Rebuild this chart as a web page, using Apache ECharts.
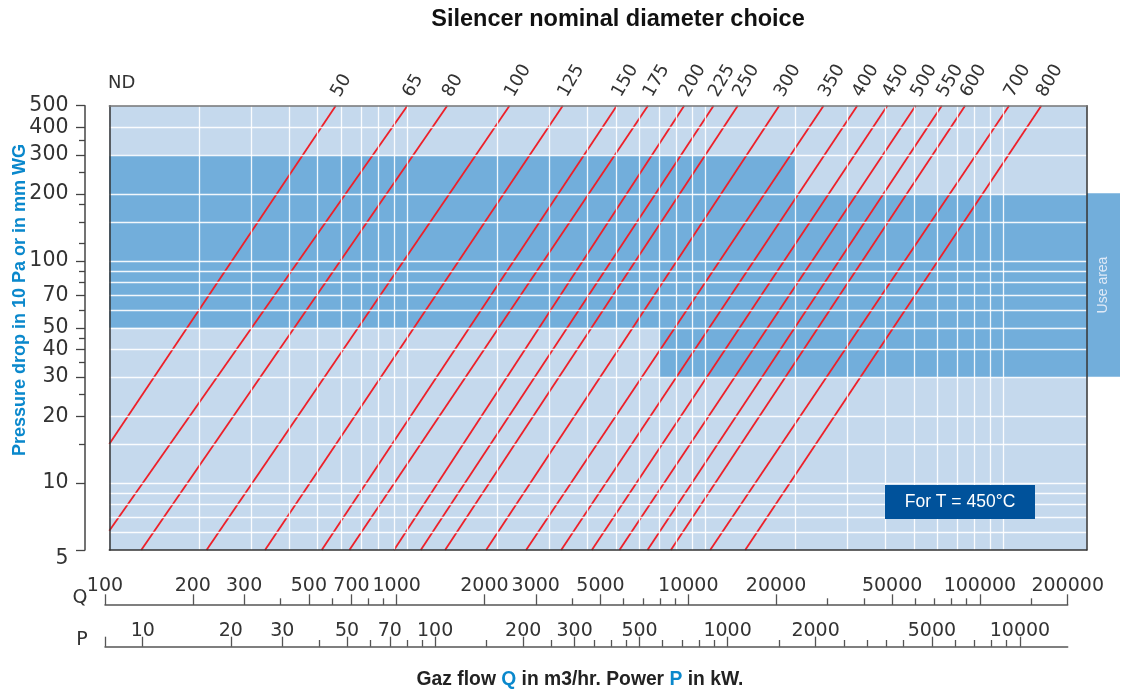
<!DOCTYPE html>
<html><head><meta charset="utf-8">
<script src="https://cdn.jsdelivr.net/npm/echarts@6/dist/echarts.min.js"></script>
<style>html,body{margin:0;padding:0;background:#fff}#c{width:1128px;height:690px}</style>
</head><body><div id="c"></div>
<script>
// ---- data ----
const ndNames  = ['50','65','80','100','125','150','175','200','225','250','300','350','400','450','500','550','600','700','800'];
// gas flow Q (m3/h) where each ND line meets the 500 top of the chart
const ndTopQ   = [575,1000,1360,2200,3320,5040,6410,8480,10640,12830,17670,24890,32290,40720,50670,62030,74270,104300,133800];
const ndTopDp  = [500,500,500,500,500,500,500,500,500,500,500,500,500,500,500,500,500,500,500];
// where each ND line leaves the chart (left edge or bottom)
const ndEndQ   = [100,100,128,212,333,516,639,902,1109,1338,1837,2502,3280,4157,5145,6390,7654,10370,13590];
const ndEndDp  = [15,6.1,5,5,5,5,5,5,5,5,5,5,5,5,5,5,5,5,5];

// use area bands
const useAreaQFrom = [100, 100, 7000];
const useAreaQTo   = [20000, 190000, 190000];
const useAreaDpLow = [200, 50, 30];
const useAreaDpHigh= [300, 200, 50];
const useTabDp = [30, 200];

// plot scale ranges
const qRange  = [100, 190000];
const dpRange = [5, 500];

// grid lines
const gridQ  = [200,300,400,500,600,700,800,900,1000,2000,3000,4000,5000,6000,7000,8000,9000,10000,20000,30000,40000,50000,60000,70000,80000,90000,100000];
const gridDp = [6,7,8,9,10,15,20,30,40,50,60,70,80,90,100,150,200,300,400];

// axis ticks and labels
const yLabels = [5,10,20,30,40,50,70,100,200,300,400,500];
const yMinor  = [15,25,35,45,60,80,90,120,150,180,250,350];
const qAxisRange = [100, 200000];
const qLabels = [100,200,300,500,700,1000,2000,3000,5000,10000,20000,50000,100000,200000];
const qMinor  = [400,600,800,900,4000,6000,7000,8000,9000,30000,40000,60000,70000,80000,90000,150000];
const pAxisRange = [7.43, 14560];
const pLabels = [10,20,30,50,70,100,200,300,500,1000,2000,5000,10000];
const pMajorTicks = [7.43,10,20,30,50,70,100,200,300,500,1000,2000,5000,10000];
const pMinor  = [40,60,80,90,150,250,350,400,450,600,700,800,900,1500,2500,3000,3500,4000,6000,7000,8000,9000];

// ---- chart ----
const FONT = 'DejaVu Sans';
const AR = 'Liberation Sans';
const chart = echarts.init(document.getElementById('c'));

function ndLabel(v) {
  let best = 0, bd = Infinity;
  ndTopQ.forEach((q, i) => { const d = Math.abs(Math.log(q) - Math.log(v)); if (d < bd) { bd = d; best = i; } });
  return ndNames[best];
}
const plain = v => String(Math.round(v));

const hidden = { show: false };
const plotL = 109.3, plotT = 105.7, plotR = 1086.7, plotB = 550;

const option = {
  animation: false,
  backgroundColor: '#ffffff',
  title: [
    { text: 'Silencer nominal diameter choice', left: 618, top: 8, textAlign: 'center', padding: 0,
      textStyle: { fontFamily: AR, fontWeight: 'bold', fontSize: 23.5, color: '#111' } },
    { text: '{a|Gaz flow }{b|Q}{a| in m3/hr. Power }{b|P}{a| in kW.}', left: 580, top: 670, textAlign: 'center', padding: 0,
      textStyle: { rich: {
        a: { fontFamily: AR, fontWeight: 'bold', fontSize: 19.3, color: '#222' },
        b: { fontFamily: AR, fontWeight: 'bold', fontSize: 19.3, color: '#0a88cc' } } } }
  ],
  grid: [
    { left: plotL, top: plotT, width: plotR - plotL, height: plotB - plotT, show: true, backgroundColor: '#c5d9ed', borderWidth: 0 },
    { left: plotR, top: 193.3, width: 33.3, height: 183.4 },
    { left: 105, top: 560, width: 962.7, height: 45 },
    { left: 105, top: 610, width: 962.7, height: 36.7 }
  ],
  xAxis: [
    { gridIndex: 0, type: 'log', min: qRange[0], max: qRange[1], position: 'bottom', z: 10,
      axisLine: { show: true, lineStyle: { color: '#333', width: 1.5 } },
      axisTick: hidden, axisLabel: hidden, splitLine: hidden },
    { gridIndex: 0, type: 'log', min: qRange[0], max: qRange[1], position: 'top', z: 10,
      axisLine: { show: true, lineStyle: { color: '#777', width: 1.5 } },
      axisTick: hidden, splitLine: hidden,
      axisLabel: { show: true, customValues: ndTopQ, rotate: -60, margin: 10, hideOverlap: false,
        fontFamily: FONT, fontSize: 18, color: '#333', formatter: v => ndLabel(v) } },
    { gridIndex: 1, type: 'value', min: 0, max: 1, show: false },
    { gridIndex: 2, type: 'log', min: qAxisRange[0], max: qAxisRange[1], position: 'bottom',
      axisLine: { show: true, lineStyle: { color: '#555', width: 1.5 } },
      axisTick: { show: true, inside: true, length: 10.7, customValues: qLabels, lineStyle: { color: '#555', width: 1.3 } },
      axisLabel: { show: true, inside: true, margin: 9, customValues: qLabels, hideOverlap: false,
        fontFamily: FONT, fontSize: 19, color: '#333', formatter: plain },
      splitLine: hidden },
    { gridIndex: 2, type: 'log', min: qAxisRange[0], max: qAxisRange[1], position: 'bottom',
      axisLine: hidden,
      axisTick: { show: true, inside: true, length: 6.7, customValues: qMinor, lineStyle: { color: '#555', width: 1.3 } },
      axisLabel: hidden, splitLine: hidden },
    { gridIndex: 3, type: 'log', min: pAxisRange[0], max: pAxisRange[1], position: 'bottom',
      axisLine: { show: true, lineStyle: { color: '#555', width: 1.5 } },
      axisTick: { show: true, inside: true, length: 10, customValues: pMajorTicks, lineStyle: { color: '#555', width: 1.3 } },
      axisLabel: { show: true, inside: true, margin: 6, customValues: pLabels, hideOverlap: false,
        fontFamily: FONT, fontSize: 19, color: '#333', formatter: plain },
      splitLine: hidden },
    { gridIndex: 3, type: 'log', min: pAxisRange[0], max: pAxisRange[1], position: 'bottom',
      axisLine: hidden,
      axisTick: { show: true, inside: true, length: 6.7, customValues: pMinor, lineStyle: { color: '#555', width: 1.3 } },
      axisLabel: hidden, splitLine: hidden }
  ],
  yAxis: [
    { gridIndex: 0, type: 'log', min: dpRange[0], max: dpRange[1], position: 'left', offset: 24.3,
      axisLine: { show: true, lineStyle: { color: '#444', width: 1.5 } },
      axisTick: { show: true, length: 9, customValues: yLabels, lineStyle: { color: '#444', width: 1.3 } },
      axisLabel: { show: true, margin: 16.5, customValues: yLabels, hideOverlap: false,
        fontFamily: FONT, fontSize: 20.5, color: '#333',
        formatter: v => (Math.abs(v - 5) < 0.01 ? '{lo|5}' : plain(v)),
        rich: { lo: { fontFamily: FONT, fontSize: 20.5, color: '#333', padding: [18, 0, 0, 0] } } },
      splitLine: hidden },
    { gridIndex: 0, type: 'log', min: dpRange[0], max: dpRange[1], position: 'left', offset: 24.3,
      axisLine: hidden,
      axisTick: { show: true, length: 6, customValues: yMinor, lineStyle: { color: '#444', width: 1.3 } },
      axisLabel: hidden, splitLine: hidden },
    { gridIndex: 0, type: 'log', min: dpRange[0], max: dpRange[1], position: 'left', offset: 0, z: 10,
      axisLine: { show: true, lineStyle: { color: '#333', width: 1.5 } },
      axisTick: hidden, axisLabel: hidden, splitLine: hidden },
    { gridIndex: 0, type: 'log', min: dpRange[0], max: dpRange[1], position: 'right', offset: 0, z: 10,
      axisLine: { show: true, lineStyle: { color: '#333', width: 1.5 } },
      axisTick: hidden, axisLabel: hidden, splitLine: hidden },
    { gridIndex: 1, type: 'log', min: useTabDp[0], max: useTabDp[1], show: false },
    { gridIndex: 2, type: 'value', show: false },
    { gridIndex: 3, type: 'value', show: false }
  ],
  series: [
    { type: 'line', xAxisIndex: 0, yAxisIndex: 0, data: [], z: 1, silent: true,
      markArea: { silent: true, itemStyle: { color: '#72aedb' },
        data: useAreaQFrom.map((q0, i) => [
          { xAxis: q0, yAxis: useAreaDpHigh[i] },
          { xAxis: useAreaQTo[i], yAxis: useAreaDpLow[i] }
        ]) } },
    { type: 'line', xAxisIndex: 0, yAxisIndex: 0, data: [], z: 2, silent: true,
      markLine: { silent: true, symbol: ['none', 'none'], label: { show: false },
        lineStyle: { color: '#ffffff', width: 1.3, type: 'solid', opacity: 0.9 },
        emphasis: { disabled: true },
        data: gridQ.map(v => ({ xAxis: v })).concat(gridDp.map(v => ({ yAxis: v }))) } },
    ...ndNames.map((nd, i) => ({
      name: 'ND ' + nd, type: 'line', xAxisIndex: 0, yAxisIndex: 0, z: 3, silent: true,
      symbol: 'none', showSymbol: false, clip: false,
      lineStyle: { color: '#ee2029', width: 1.8 },
      data: [[ndTopQ[i], ndTopDp[i]], [ndEndQ[i], ndEndDp[i]]]
    })),
    { type: 'line', xAxisIndex: 2, yAxisIndex: 4, data: [], silent: true,
      markArea: { silent: true, itemStyle: { color: '#72aedb' },
        label: { show: true, position: 'inside', rotate: 90, color: '#dfe9f6', fontFamily: AR, fontSize: 14 },
        data: [[{ name: 'Use area', xAxis: 0, yAxis: useTabDp[1] }, { xAxis: 1, yAxis: useTabDp[0] }]] } }
  ],
  graphic: [
    { type: 'text', x: 20, y: 300, rotation: Math.PI / 2,
      style: { text: 'Pressure drop in 10 Pa or in mm WG', fill: '#0a88cc', font: 'bold 18px "Liberation Sans"',
        textAlign: 'center', textVerticalAlign: 'middle', align: 'center', verticalAlign: 'middle' } },
    { type: 'text', x: 108, y: 83.5,
      style: { text: 'ND', fill: '#333', font: '18px "DejaVu Sans"', textVerticalAlign: 'middle', verticalAlign: 'middle' } },
    { type: 'text', x: 80, y: 598,
      style: { text: 'Q', fill: '#333', font: '19px "DejaVu Sans"', textAlign: 'center', textVerticalAlign: 'middle', align: 'center', verticalAlign: 'middle' } },
    { type: 'text', x: 82, y: 640,
      style: { text: 'P', fill: '#333', font: '19px "DejaVu Sans"', textAlign: 'center', textVerticalAlign: 'middle', align: 'center', verticalAlign: 'middle' } },
    { type: 'rect', shape: { x: 885, y: 485, width: 150, height: 34 }, style: { fill: '#00529b' }, z: 20 },
    { type: 'text', x: 960, y: 502, z: 21,
      style: { text: 'For T = 450°C', fill: '#ffffff', font: '17.5px "Liberation Sans"', textAlign: 'center', textVerticalAlign: 'middle', align: 'center', verticalAlign: 'middle' } }
  ]
};
chart.setOption(option);
</script>
</body></html>
